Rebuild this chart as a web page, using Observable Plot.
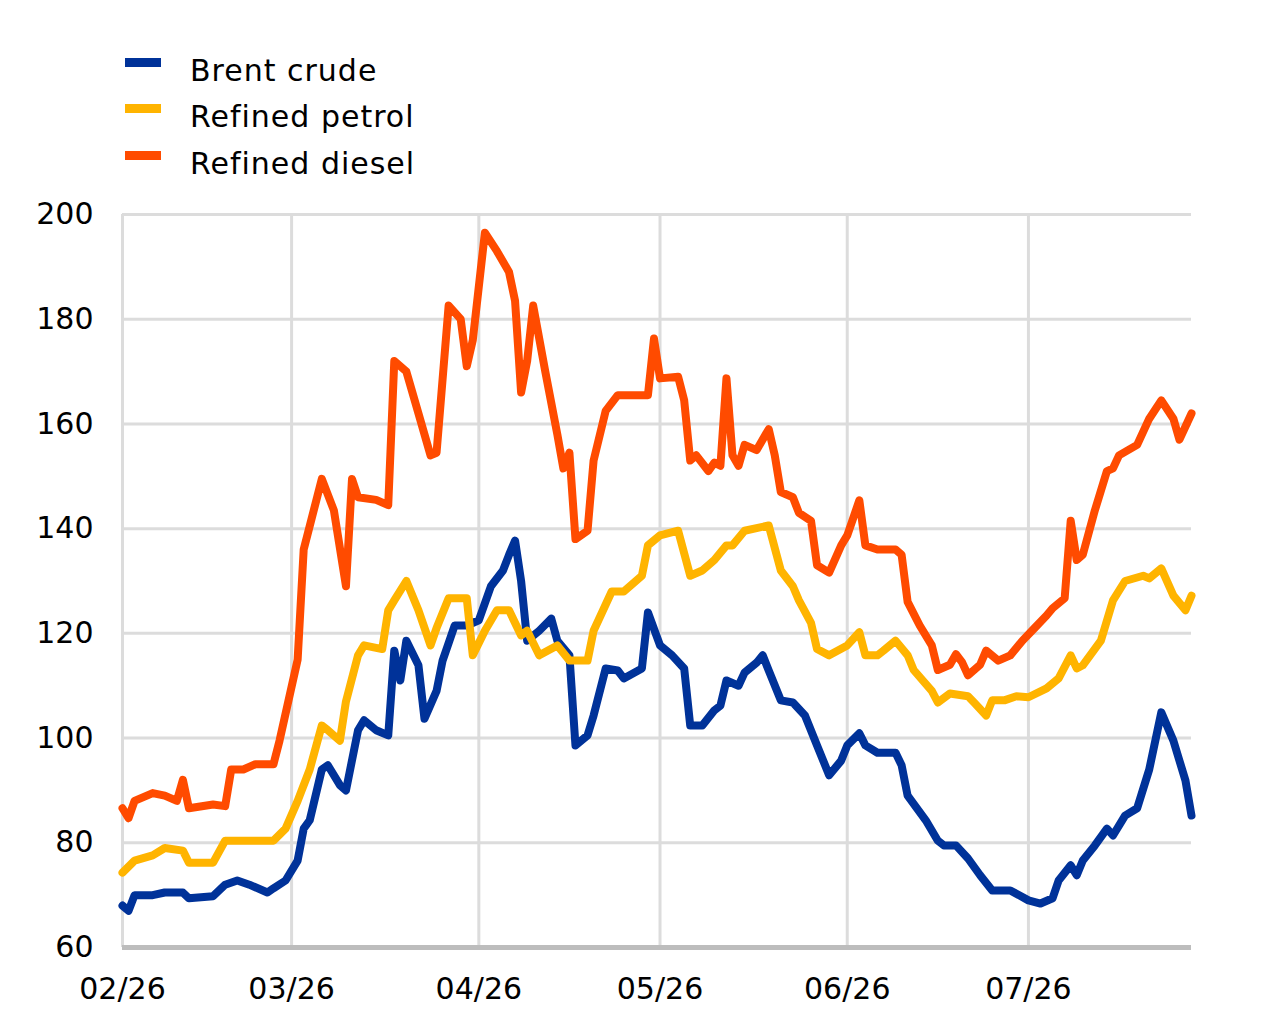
<!DOCTYPE html>
<html>
<head>
<meta charset="utf-8">
<script src="https://cdn.jsdelivr.net/npm/d3@7"></script>
<script src="https://cdn.jsdelivr.net/npm/@observablehq/plot@0.6"></script>
<style>
  html, body { margin: 0; padding: 0; background: #fff; }
  #wrap { width: 1280px; }
  #legend { position: relative; height: 195px; font-family: "DejaVu Sans", Verdana, sans-serif; font-size: 30px; color: #000; }
  .item { position: absolute; left: 125px; height: 40px; }
  .sw { position: absolute; left: 0; width: 36px; height: 9px; }
  .lab { position: absolute; left: 65px; white-space: nowrap; letter-spacing: 1px; }
</style>
</head>
<body>
<div id="wrap">
  <div id="legend"></div>
  <div id="chart"></div>
</div>
<script>
// ---- Data ----
const seriesNames = ["Brent crude", "Refined petrol", "Refined diesel"];
const seriesColors = ["#003299", "#ffb400", "#ff4b00"];

const brentDates = ["2026-02-01","2026-02-02","2026-02-03","2026-02-06","2026-02-08","2026-02-11","2026-02-12","2026-02-16","2026-02-18","2026-02-20","2026-02-22","2026-02-25","2026-02-26","2026-02-28","2026-03-02","2026-03-03","2026-03-04","2026-03-06","2026-03-07","2026-03-09","2026-03-10","2026-03-12","2026-03-13","2026-03-15","2026-03-17","2026-03-18","2026-03-19","2026-03-20","2026-03-22","2026-03-23","2026-03-25","2026-03-26","2026-03-28","2026-03-30","2026-04-01","2026-04-03","2026-04-05","2026-04-06","2026-04-07","2026-04-08","2026-04-09","2026-04-11","2026-04-13","2026-04-14","2026-04-16","2026-04-17","2026-04-19","2026-04-20","2026-04-22","2026-04-24","2026-04-25","2026-04-28","2026-04-29","2026-05-01","2026-05-03","2026-05-05","2026-05-06","2026-05-08","2026-05-10","2026-05-11","2026-05-12","2026-05-14","2026-05-15","2026-05-17","2026-05-18","2026-05-19","2026-05-21","2026-05-23","2026-05-25","2026-05-27","2026-05-29","2026-05-31","2026-06-01","2026-06-03","2026-06-04","2026-06-06","2026-06-09","2026-06-10","2026-06-11","2026-06-14","2026-06-16","2026-06-17","2026-06-19","2026-06-21","2026-06-23","2026-06-25","2026-06-28","2026-07-01","2026-07-03","2026-07-05","2026-07-06","2026-07-08","2026-07-09","2026-07-10","2026-07-12","2026-07-14","2026-07-15","2026-07-17","2026-07-19","2026-07-21","2026-07-23","2026-07-25","2026-07-26","2026-07-27","2026-07-28"];
const brentValues = [68,67,70,70,70.5,70.5,69.4,69.8,72,72.8,72,70.5,71.3,72.8,76.6,82.7,84.3,94,94.8,91,90,101.5,103.4,101.5,100.5,116.7,111,118.6,113.9,103.7,109,114.8,121.5,121.5,122.5,129,132,135,137.7,130,118.6,120.5,122.8,118.6,115.8,98.6,100.5,104.3,113.3,112.9,111.4,113.3,124,117.7,115.8,113.3,102.4,102.4,105.3,106.2,111,110,112.5,114.4,115.8,112.9,107.2,106.8,104.3,98.6,92.9,95.7,98.6,100.9,98.6,97.2,97.2,94.8,89,84.3,80.4,79.5,79.5,77,73.8,70.9,70.9,69,68.4,69.4,72.8,75.7,73.8,76.6,79.5,82.7,81.4,85.2,86.6,94,104.9,99.5,95.7,91.9,85.2];

const petrolDates = ["2026-02-01","2026-02-03","2026-02-06","2026-02-08","2026-02-11","2026-02-12","2026-02-16","2026-02-18","2026-02-26","2026-02-28","2026-03-02","2026-03-04","2026-03-06","2026-03-07","2026-03-09","2026-03-10","2026-03-12","2026-03-13","2026-03-16","2026-03-17","2026-03-18","2026-03-20","2026-03-22","2026-03-24","2026-03-25","2026-03-27","2026-03-30","2026-03-31","2026-04-02","2026-04-04","2026-04-06","2026-04-08","2026-04-09","2026-04-11","2026-04-14","2026-04-16","2026-04-19","2026-04-20","2026-04-23","2026-04-25","2026-04-28","2026-04-29","2026-05-01","2026-05-04","2026-05-06","2026-05-08","2026-05-10","2026-05-12","2026-05-13","2026-05-15","2026-05-19","2026-05-21","2026-05-23","2026-05-24","2026-05-26","2026-05-27","2026-05-29","2026-06-01","2026-06-03","2026-06-04","2026-06-06","2026-06-07","2026-06-09","2026-06-11","2026-06-12","2026-06-15","2026-06-16","2026-06-18","2026-06-21","2026-06-22","2026-06-24","2026-06-25","2026-06-27","2026-06-29","2026-07-01","2026-07-04","2026-07-06","2026-07-08","2026-07-09","2026-07-10","2026-07-13","2026-07-15","2026-07-17","2026-07-20","2026-07-21","2026-07-23","2026-07-25","2026-07-27","2026-07-28"];
const petrolValues = [74.3,76.6,77.6,79,78.5,76.2,76.2,80.4,80.4,82.7,88,94,102.4,101.5,99.5,107,115.8,117.7,117,124.4,126.3,130,124.4,117.7,121,126.7,126.7,115.8,120.5,124.4,124.4,119.6,120.5,115.8,117.7,114.8,114.8,120.5,128,128,131,136.8,138.7,139.6,131,132,134,136.8,136.8,139.6,140.6,132,129,126.3,122,117,115.8,117.7,120.2,115.8,115.8,116.7,118.6,115.8,113,109,106.8,108.5,108,106.8,104.3,107.2,107.2,108,107.8,109.5,111.4,115.8,113.3,113.9,118.6,126.3,130,131,130.5,132.4,127.2,124.4,127.2];

const dieselDates = ["2026-02-01","2026-02-02","2026-02-03","2026-02-06","2026-02-08","2026-02-10","2026-02-11","2026-02-12","2026-02-16","2026-02-18","2026-02-19","2026-02-21","2026-02-23","2026-02-26","2026-02-27","2026-03-02","2026-03-03","2026-03-06","2026-03-08","2026-03-10","2026-03-11","2026-03-12","2026-03-15","2026-03-17","2026-03-18","2026-03-20","2026-03-22","2026-03-24","2026-03-25","2026-03-27","2026-03-29","2026-03-30","2026-03-31","2026-04-02","2026-04-04","2026-04-06","2026-04-07","2026-04-08","2026-04-09","2026-04-10","2026-04-12","2026-04-14","2026-04-15","2026-04-16","2026-04-17","2026-04-19","2026-04-20","2026-04-22","2026-04-24","2026-04-29","2026-04-30","2026-05-01","2026-05-04","2026-05-05","2026-05-06","2026-05-07","2026-05-09","2026-05-10","2026-05-11","2026-05-12","2026-05-13","2026-05-14","2026-05-15","2026-05-17","2026-05-19","2026-05-20","2026-05-21","2026-05-23","2026-05-24","2026-05-26","2026-05-27","2026-05-29","2026-05-31","2026-06-01","2026-06-03","2026-06-04","2026-06-06","2026-06-09","2026-06-10","2026-06-11","2026-06-13","2026-06-15","2026-06-16","2026-06-18","2026-06-19","2026-06-20","2026-06-21","2026-06-23","2026-06-24","2026-06-26","2026-06-28","2026-06-30","2026-07-02","2026-07-04","2026-07-05","2026-07-07","2026-07-08","2026-07-09","2026-07-10","2026-07-12","2026-07-14","2026-07-15","2026-07-16","2026-07-19","2026-07-21","2026-07-23","2026-07-25","2026-07-26","2026-07-28"];
const dieselValues = [86.6,84.7,88,89.5,89,88,92,86.6,87.3,87,94,94,95,95,99.5,115,136,149.5,143.5,129,149.5,146,145.5,144.5,172,170,162,154,154.5,182.6,180,171,176,196.5,193,189,183.5,166,172,182.6,170,158,151.5,154.5,138,139.6,153,162.5,165.5,165.5,176.3,168.7,169,164.5,153,154,151,152.6,152,168.7,154,152,156,155,159,154,147,146,143,141.5,133,131.6,136.8,138.7,145.4,136.8,136,136,135,126,121.5,117.7,113,114,116,114.5,112,114,116.7,114.8,115.8,118.6,121,123.4,124.8,126.7,141.5,134,135,143.5,151,151.5,154,156,161,164.5,161,157,162];

const xDomain = ["2026-02-01", "2026-07-28"];
const xTickDates = ["2026-02-01","2026-03-01","2026-04-01","2026-05-01","2026-06-01","2026-07-01"];
const yTicks = [60, 80, 100, 120, 140, 160, 180, 200];

// ---- Build table ----
const parse = d3.utcParse("%Y-%m-%d");
const rows = [];
[[brentDates, brentValues], [petrolDates, petrolValues], [dieselDates, dieselValues]].forEach(([ds, vs], i) => {
  ds.forEach((d, j) => rows.push({series: seriesNames[i], date: parse(d), value: vs[j]}));
});

// ---- Legend ----
const legend = document.getElementById("legend");
const legendTops = [51, 97, 144];
seriesNames.forEach((name, i) => {
  const it = document.createElement("div");
  it.className = "item";
  it.style.top = legendTops[i] + "px";
  it.innerHTML = `<div class="sw" style="top:7px;background:${seriesColors[i]}"></div><div class="lab" style="top:2px">${name}</div>`;
  legend.appendChild(it);
});

// ---- Chart ----
const xt = xTickDates.map(parse);
const chart = Plot.plot({
  width: 1280,
  height: 826,
  marginTop: 19,
  marginLeft: 122,
  marginRight: 89,
  marginBottom: 74,
  style: {fontFamily: "DejaVu Sans, Verdana, sans-serif", fontSize: "30px", color: "#000", background: "#fff"},
  x: {type: "utc", domain: xDomain.map(parse), label: null},
  y: {domain: [60, 200], label: null},
  color: {domain: seriesNames, range: seriesColors},
  marks: [
    Plot.ruleY(yTicks, {stroke: "#dcdcdc", strokeWidth: 3}),
    Plot.ruleX(xt, {stroke: "#dcdcdc", strokeWidth: 3}),
    Plot.ruleY([60], {stroke: "#bdbdbd", strokeWidth: 5}),
    Plot.axisX({ticks: xt, tickFormat: d3.utcFormat("%m/%y"), tickSize: 0, tickPadding: 30, fontSize: 30, letterSpacing: 1}),
    Plot.axisY({ticks: yTicks, tickSize: 0, tickPadding: 29, fontSize: 30}),
    Plot.line(rows, {x: "date", y: "value", z: "series", stroke: "series", strokeWidth: 8, strokeLinejoin: "round", strokeLinecap: "round"})
  ]
});
document.getElementById("chart").appendChild(chart);
</script>
</body>
</html>
